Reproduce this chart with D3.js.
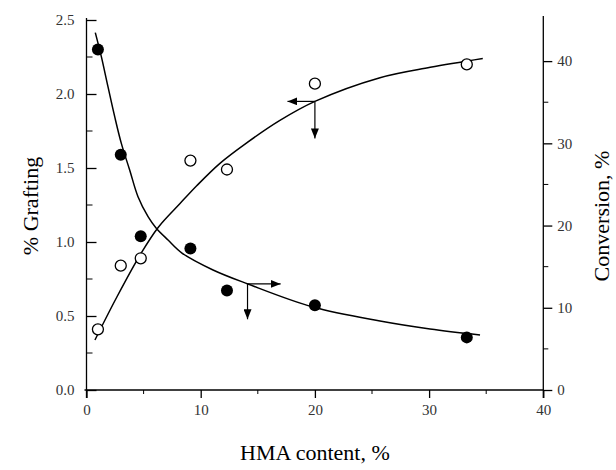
<!DOCTYPE html>
<html lang="en">
  <head>
    <meta charset="UTF-8" />
    <title>Grafting and conversion vs HMA content</title>
    <style>
      body {
        margin: 0;
        background: #fff;
        overflow: hidden;
      }
      svg text {
        font-family: "Liberation Serif", "Times New Roman", serif !important;
      }
      .tick text {
        font-size: 15px;
        fill: #333;
      }
      .axis-title {
        font-size: 22px;
        fill: #000;
      }
    </style>
    <script src="https://unpkg.com/d3@7.8.1/dist/d3.min.js"></script>
  </head>
  <body>
    <script>
      const { select, scaleLinear, line, range, curveCatmullRom } = d3;

//Data
      // HMA content, %
      const hma = [1, 3, 4.75, 9.1, 12.3, 20, 33.3];
      // % grafting (open circles, left axis)
      const grafting = [0.41, 0.84, 0.89, 1.55, 1.49, 2.07, 2.2];
      // conversion, % (filled circles, right axis)
      const conversion = [41.4, 28.6, 18.7, 17.2, 12.1, 10.3, 6.4];

      // fitted curves as drawn
      const graftFitX = [0.74, 2.67, 4.75, 6.29, 8.19, 9.65, 11.66, 14.03, 16.9, 20.0, 25.7, 30.1, 34.7];
      const graftFitY = [0.338, 0.63, 0.92, 1.1, 1.26, 1.38, 1.53, 1.67, 1.82, 1.95, 2.11, 2.18, 2.24];
      const convFitX = [0.77, 1.3, 1.88, 2.47, 3.05, 3.78, 4.51, 5.39, 6.11, 7.14, 8.36, 11.08, 14.14, 19.83, 25.7, 30.08, 34.46];
      const convFitY = [43.46, 40.54, 36.89, 33.24, 29.99, 26.76, 23.51, 21.08, 19.67, 18.24, 16.66, 14.6, 12.89, 10.09, 8.39, 7.42, 6.69];

      const xTicks = [0, 10, 20, 30, 40];
      const leftTicks = [0.0, 0.5, 1.0, 1.5, 2.0, 2.5];
      const rightTicks = [0, 10, 20, 30, 40];

      const width = 616;
      const height = 470;
      const plot = { left: 86.5, right: 543.3, top: 20, bottom: 390 };
      const serif = '"Liberation Serif", "Times New Roman", serif';

      const svg = select("body")
        .append("svg")
        .attr("width", width)
        .attr("height", height);

      const x = scaleLinear().domain([0, 40]).range([plot.left, plot.right]);
      const yL = scaleLinear().domain([0, 2.5]).range([plot.bottom, plot.top]);
      const yR = scaleLinear().domain([0, 45]).range([plot.bottom, plot.top]);

      svg.append("defs")
        .append("marker")
        .attr("id", "head")
        .attr("viewBox", "0 0 10 8")
        .attr("refX", 10)
        .attr("refY", 4)
        .attr("markerWidth", 10)
        .attr("markerHeight", 8)
        .attr("markerUnits", "userSpaceOnUse")
        .attr("orient", "auto")
        .append("path")
        .attr("d", "M0,0 L10,4 L0,8 Z")
        .attr("fill", "#000");

//Axes
      const bottomAxis = d3.axisBottom(x).tickValues(xTicks).tickSize(8).tickPadding(6).tickFormat(d3.format("d"));
      const gx = svg.append("g")
        .attr("transform", `translate(0, ${plot.bottom})`)
        .call(bottomAxis);
      gx.select(".domain").attr("d", `M${plot.left - 2},0H${plot.right}`);

      // minor ticks on x
      gx.selectAll(".minor")
        .data(range(5, 40, 10))
        .enter()
        .append("line")
        .attr("x1", d => x(d))
        .attr("x2", d => x(d))
        .attr("y1", 0)
        .attr("y2", 4)
        .attr("stroke", "#000");

      const leftAxis = d3.axisRight(yL).tickValues(leftTicks).tickSize(10).tickFormat(d3.format(".1f"));
      const gl = svg.append("g")
        .attr("transform", `translate(${plot.left}, 0)`)
        .call(leftAxis);
      gl.select(".domain").attr("d", `M0,${plot.top - 2}V${plot.bottom + 8}`);
      gl.selectAll(".tick text")
        .attr("x", -12)
        .attr("text-anchor", "end");
      gl.selectAll(".minor")
        .data(range(0.25, 2.5, 0.5))
        .enter()
        .append("line")
        .attr("x1", 0)
        .attr("x2", 6)
        .attr("y1", d => yL(d))
        .attr("y2", d => yL(d))
        .attr("stroke", "#000");

      const rightAxis = d3.axisRight(yR).tickValues(rightTicks).tickSize(9).tickPadding(5).tickFormat(d3.format("d"));
      const gr = svg.append("g")
        .attr("transform", `translate(${plot.right}, 0)`)
        .call(rightAxis);
      gr.select(".domain").attr("d", `M0,${plot.top - 4}V${plot.bottom + 8}`);
      gr.selectAll(".minor")
        .data(range(5, 45, 10))
        .enter()
        .append("line")
        .attr("x1", 0)
        .attr("x2", 5)
        .attr("y1", d => yR(d))
        .attr("y2", d => yR(d))
        .attr("stroke", "#000");

      svg.selectAll("g").attr("font-family", serif);
      svg.selectAll(".domain, .tick line").attr("stroke", "#000").attr("stroke-width", 1.3);

//Titles
      svg.append("text")
        .attr("class", "axis-title")
        .attr("x", (plot.left + plot.right) / 2)
        .attr("y", 460)
        .attr("text-anchor", "middle")
        .text("HMA content, %");

      svg.append("text")
        .attr("class", "axis-title")
        .attr("transform", `translate(38, 206) rotate(-90)`)
        .attr("text-anchor", "middle")
        .text("% Grafting");

      svg.append("text")
        .attr("class", "axis-title")
        .attr("transform", `translate(609, 216) rotate(-90)`)
        .attr("text-anchor", "middle")
        .text("Conversion, %");

//Curves
      const graftLine = line().x(d => x(d[0])).y(d => yL(d[1])).curve(curveCatmullRom);
      const convLine = line().x(d => x(d[0])).y(d => yR(d[1])).curve(curveCatmullRom);

      svg.append("path")
        .attr("d", graftLine(graftFitX.map((d, i) => [d, graftFitY[i]])))
        .attr("fill", "none")
        .attr("stroke", "#000")
        .attr("stroke-width", 1.5);

      svg.append("path")
        .attr("d", convLine(convFitX.map((d, i) => [d, convFitY[i]])))
        .attr("fill", "none")
        .attr("stroke", "#000")
        .attr("stroke-width", 1.5);

//Points
      svg.selectAll(".open")
        .data(hma)
        .enter()
        .append("circle")
        .attr("cx", d => x(d))
        .attr("cy", (d, i) => yL(grafting[i]))
        .attr("r", 5.5)
        .attr("fill", "#fff")
        .attr("stroke", "#000")
        .attr("stroke-width", 1.3);

      svg.selectAll(".filled")
        .data(hma)
        .enter()
        .append("circle")
        .attr("cx", d => x(d))
        .attr("cy", (d, i) => yR(conversion[i]))
        .attr("r", 6)
        .attr("fill", "#000");

//Arrows pointing to the axis each curve belongs to
      const arrows = [
        { x1: 20, y1: yL(1.95), x2: 17.6, y2: yL(1.95) },
        { x1: 20, y1: yL(1.95), x2: 20, y2: yL(1.70) },
        { x1: 14.1, y1: yR(12.9), x2: 17.0, y2: yR(12.9) },
        { x1: 14.1, y1: yR(12.9), x2: 14.1, y2: yR(8.6) },
      ];
      svg.selectAll(".arrow")
        .data(arrows)
        .enter()
        .append("line")
        .attr("x1", d => x(d.x1))
        .attr("y1", d => d.y1)
        .attr("x2", d => x(d.x2))
        .attr("y2", d => d.y2)
        .attr("stroke", "#000")
        .attr("stroke-width", 1.2)
        .attr("marker-end", "url(#head)");
    </script>
  </body>
</html>
